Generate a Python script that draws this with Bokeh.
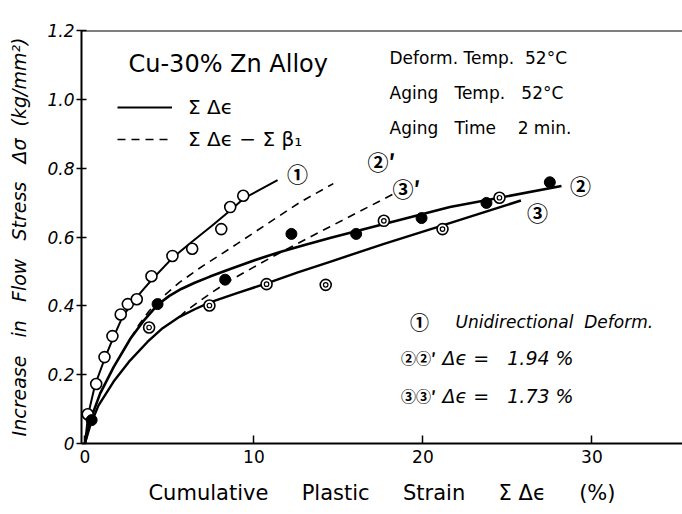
import math
from bokeh.plotting import figure
from bokeh.models import Range1d, FixedTicker, Span, Label, Legend, LegendItem
from bokeh.embed import file_html
from bokeh.resources import INLINE

# ---------------- data ----------------
# (1) unidirectional deformation - open circles
uni_x = [0.17, 0.67, 1.16, 1.63, 2.12, 2.54, 3.07, 3.94, 5.18, 6.35, 8.07, 8.60, 9.37]
uni_y = [0.085, 0.173, 0.251, 0.312, 0.375, 0.405, 0.419, 0.486, 0.545, 0.566, 0.623, 0.687, 0.720]
# (2) delta eps = 1.94 % - filled circles
s2_x = [0.40, 4.30, 8.30, 12.22, 16.05, 19.92, 23.76, 27.51]
s2_y = [0.068, 0.405, 0.476, 0.609, 0.609, 0.655, 0.699, 0.759]
# (3) delta eps = 1.73 % - double circles
s3_x = [3.80, 7.37, 10.75, 14.25, 17.69, 21.16, 24.53]
s3_y = [0.337, 0.401, 0.463, 0.461, 0.647, 0.623, 0.714]

# fitted curves
c1_x = [0, 0.2, 0.6, 1.2, 1.7, 2.2, 2.8, 3.5, 4.0, 5.2, 6.3, 7.5, 8.6, 9.4, 11.4]
c1_y = [0, 0.085, 0.17, 0.25, 0.31, 0.365, 0.41, 0.45, 0.478, 0.54, 0.585, 0.632, 0.677, 0.712, 0.765]
c2_x = [0, 0.3, 0.9, 1.7, 2.7, 3.5, 4.3, 5.0, 5.7, 6.5, 7.4, 8.6, 10.0, 11.5, 13.0, 14.5, 17.7, 21.6, 28.2]
c2_y = [0, 0.065, 0.145, 0.222, 0.305, 0.358, 0.403, 0.429, 0.449, 0.467, 0.485, 0.507, 0.532, 0.556,
        0.577, 0.597, 0.638, 0.687, 0.748]
c3_x = [0, 0.3, 0.8, 1.7, 2.6, 3.7, 4.6, 5.6, 6.5, 7.4, 9.0, 10.8, 12.6, 14.5, 17.7, 20.8, 25.8]
c3_y = [0, 0.05, 0.11, 0.18, 0.237, 0.295, 0.335, 0.368, 0.39, 0.41, 0.437, 0.466, 0.497, 0.528,
        0.58, 0.628, 0.706]
d2_x = [2.7, 3.2, 3.8, 4.5, 5.6, 6.8, 8.0, 9.0, 10.9, 12.8, 14.7]
d2_y = [0.305, 0.345, 0.385, 0.422, 0.468, 0.51, 0.548, 0.58, 0.642, 0.703, 0.755]
d3_x = [5.6, 6.0, 7.4, 8.6, 11.0, 14.5, 18.3]
d3_y = [0.368, 0.386, 0.435, 0.474, 0.54, 0.63, 0.726]

x_ticks = [0, 10, 20, 30]
y_ticks = [0, 0.2, 0.4, 0.6, 0.8, 1.0, 1.2]
y_tick_labels = ["0", "0.2", "0.4", "0.6", "0.8", "1.0", "1.2"]

FONT = "DejaVu Sans"
CJK = "Noto Sans CJK JP"

p = figure(width=682, height=514, x_range=Range1d(-0.2, 35.36), y_range=Range1d(0, 1.2),
           output_backend="svg", toolbar_location=None,
           min_border_left=81, min_border_right=0, min_border_top=30, min_border_bottom=71)
p.outline_line_color = None
p.grid.visible = False
p.background_fill_color = "white"
p.border_fill_color = "white"

# axes
xa = p.xaxis[0]
xa.ticker = FixedTicker(ticks=x_ticks)
xa.major_label_overrides = {t: str(t) for t in x_ticks}
xa.axis_line_width = 2
xa.axis_line_color = "black"
xa.major_tick_in = 8
xa.major_tick_out = 0
xa.major_tick_line_width = 1.5
xa.major_tick_line_color = "black"
xa.minor_tick_line_color = None
xa.major_label_text_font = FONT
xa.major_label_text_font_size = "17px"
xa.major_label_text_color = "black"
xa.major_label_standoff = 6
xa.axis_label = ("Cumulative\u00a0\u00a0\u00a0\u00a0 Plastic\u00a0\u00a0\u00a0\u00a0 Strain\u00a0\u00a0\u00a0\u00a0"
                 " \u03a3 \u0394\u03f5\u00a0\u00a0\u00a0\u00a0 (%)")
xa.axis_label_text_font = FONT
xa.axis_label_text_font_style = "normal"
xa.axis_label_text_font_size = "21px"
xa.axis_label_text_color = "black"
xa.axis_label_standoff = 15

ya = p.yaxis[0]
ya.ticker = FixedTicker(ticks=y_ticks)
ya.major_label_overrides = dict(zip(y_ticks, y_tick_labels))
ya.axis_line_width = 2
ya.axis_line_color = "black"
ya.major_tick_in = 5
ya.major_tick_out = 5
ya.major_tick_line_width = 1.5
ya.major_tick_line_color = "black"
ya.minor_tick_line_color = None
ya.major_label_text_font = FONT
ya.major_label_text_font_size = "17px"
ya.major_label_text_font_style = "italic"
ya.major_label_text_color = "black"
ya.major_label_standoff = 2
ya.axis_label = ("Increase\u00a0\u00a0 in\u00a0\u00a0 Flow\u00a0\u00a0 Stress\u00a0\u00a0"
                 " \u0394\u03c3\u00a0 (kg/mm\u00b2)")
ya.axis_label_text_font = FONT
ya.axis_label_text_font_style = "italic"
ya.axis_label_text_font_size = "19px"
ya.axis_label_text_color = "black"
ya.axis_label_standoff = 14

p.add_layout(Span(location=1.2, dimension="width", line_color="black", line_width=2))

# curves
r_c1 = p.line(c1_x, c1_y, line_color="black", line_width=2)
p.line(c2_x, c2_y, line_color="black", line_width=2.6)
p.line(c3_x, c3_y, line_color="black", line_width=2.4)
r_d2 = p.line(d2_x, d2_y, line_color="black", line_width=1.6, line_dash="8 6")
p.line(d3_x, d3_y, line_color="black", line_width=1.6, line_dash="8 6")

# markers
p.scatter(uni_x, uni_y, marker="circle", size=11, fill_color="white", line_color="black", line_width=1.6)
p.scatter(s2_x, s2_y, marker="circle", size=11, fill_color="black", line_color="black")
p.scatter(s3_x, s3_y, marker="circle", size=11, fill_color="white", line_color="black", line_width=1.6)
p.scatter(s3_x, s3_y, marker="circle", size=4.5, fill_color="white", line_color="black", line_width=1.2)

# legend (line styles)
legend = Legend(items=[LegendItem(label="\u03a3 \u0394\u03f5", renderers=[r_c1]),
                       LegendItem(label="\u03a3 \u0394\u03f5 \u2212 \u03a3 \u03b2\u2081", renderers=[r_d2])],
                location=(36, 292), glyph_width=55, glyph_height=20, label_height=20,
                label_standoff=16, spacing=8, padding=0, margin=0,
                border_line_color=None, background_fill_alpha=0,
                label_text_font=FONT, label_text_font_size="20px", label_text_color="black")
p.add_layout(legend)

# annotation helpers: window pixel -> data coordinate
X0PX, XS, Y0PX, YS = 84.4, 16.9, 443.0, 344.17
def dx(px):
    return (px - X0PX) / XS
def dy(py):
    return (Y0PX - py) / YS

def label(text, px, py, size, font=FONT, style="normal", align="left"):
    p.add_layout(Label(x=dx(px), y=dy(py), text=text, text_font=font, text_font_size=size,
                       text_font_style=style, text_align=align, text_baseline="middle",
                       text_color="black"))

label("Cu-30% Zn Alloy", 128, 63, "24px")
label("Deform. Temp.\u00a0 52\u00b0C", 389, 57, "17px")
label("Aging\u00a0\u00a0 Temp.\u00a0\u00a0 52\u00b0C", 389, 92, "17px")
label("Aging\u00a0\u00a0 Time\u00a0\u00a0\u00a0 2 min.", 389, 127, "17px")

# curve labels
label("\u2460", 297, 172, "21px", font=CJK, style="bold", align="center")
label("\u2461\u2032", 381, 160, "21px", font=CJK, style="bold", align="center")
label("\u2462\u2032", 406, 187, "21px", font=CJK, style="bold", align="center")
label("\u2461", 580, 184, "21px", font=CJK, style="bold", align="center")
label("\u2462", 537, 211, "21px", font=CJK, style="bold", align="center")

# key on the right
label("\u2460", 419, 321, "19px", font=CJK, style="bold", align="center")
label("Unidirectional\u00a0 Deform.", 455, 321, "17px", style="italic")
label("\u2461\u2461\u2032", 418, 357, "15px", font=CJK, style="bold", align="center")
label("\u0394\u03f5 =\u00a0\u00a0 1.94\u00a0%", 442, 357, "19px", style="italic")
label("\u2462\u2462\u2032", 418, 395, "15px", font=CJK, style="bold", align="center")
label("\u0394\u03f5 =\u00a0\u00a0 1.73\u00a0%", 442, 395, "19px", style="italic")

open("out.html", "w").write(file_html(p, INLINE))
